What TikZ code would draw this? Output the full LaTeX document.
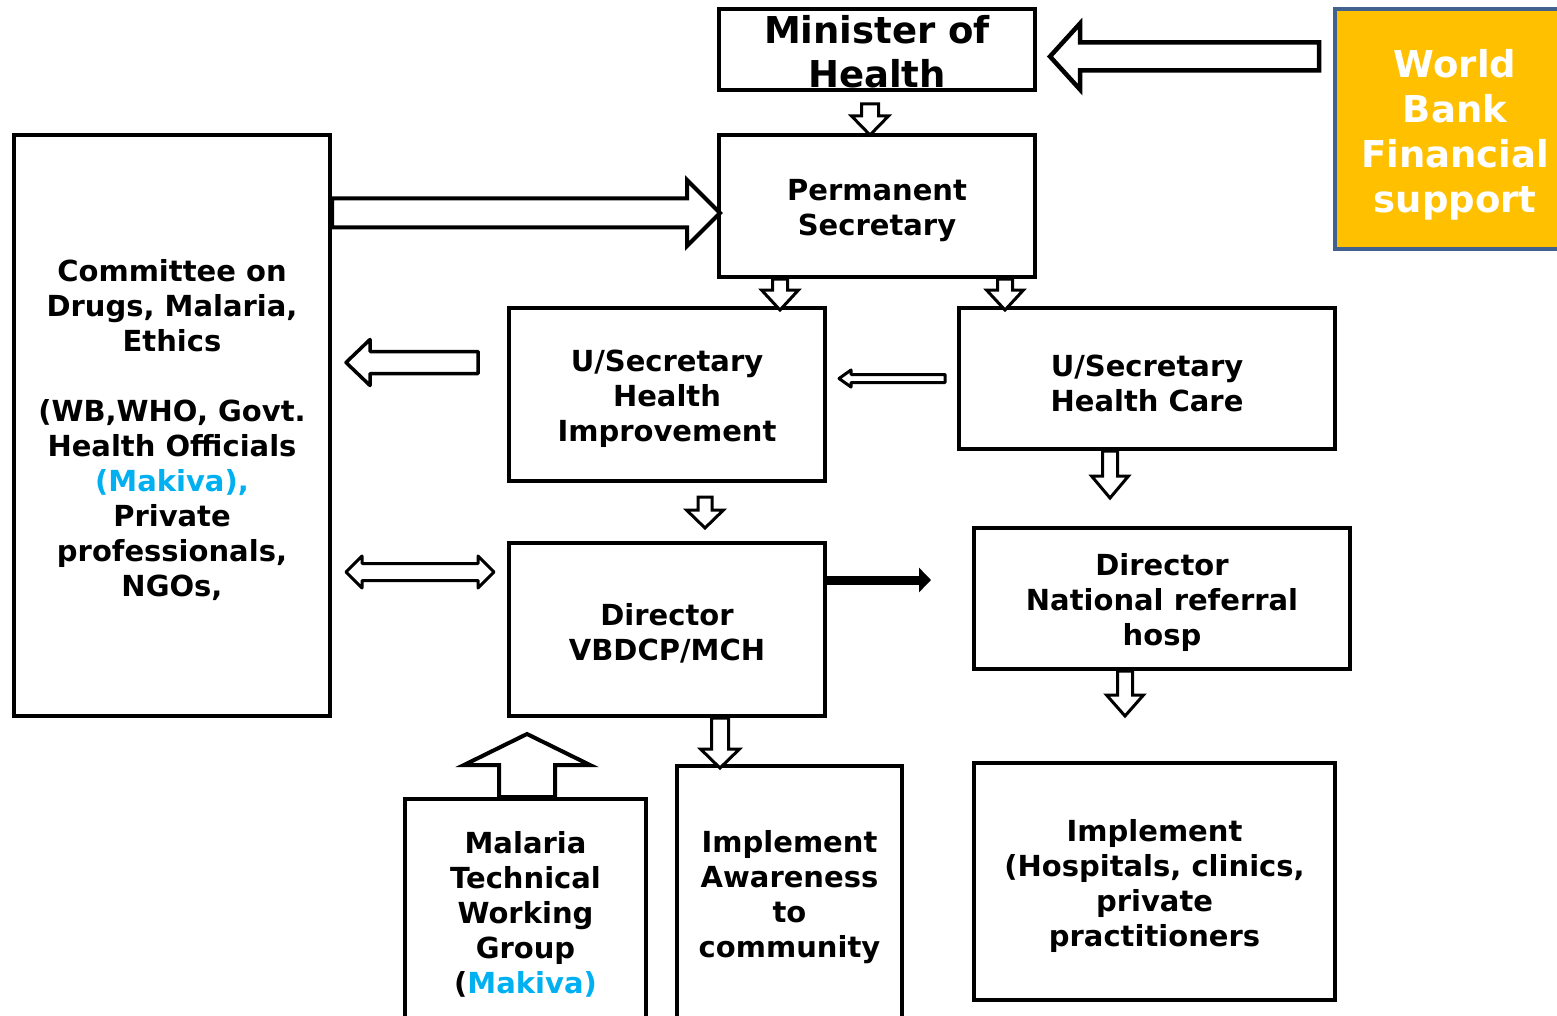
\documentclass[tikz,border=0pt]{standalone}
\usepackage{fontspec}
\setmainfont{DejaVu Sans}
\usetikzlibrary{calc,arrows.meta}
\definecolor{mkv}{HTML}{00B0F0}
\definecolor{wbfill}{HTML}{FFC000}
\definecolor{wbline}{HTML}{41618E}
\newcommand\tsh[1][1.05em]{\rule{0pt}{#1}}
% block arrow: [style]{from}{to}{shaft half}{head half}{head length}
\newcommand\blockarr[6][]{%
  \path (#2) coordinate (ba-s) (#3) coordinate (ba-e);
  \path ($(ba-e)!#6!(ba-s)$) coordinate (ba-h);
  \draw[hollowarr,#1] ($(ba-s)!#4!90:(ba-e)$) -- ($(ba-h)!#4!90:(ba-e)$)
    -- ($(ba-h)!#5!90:(ba-e)$) -- (ba-e) -- ($(ba-h)!#5!-90:(ba-e)$)
    -- ($(ba-h)!#4!-90:(ba-e)$) -- ($(ba-s)!#4!-90:(ba-e)$) -- cycle;}
% double block arrow
\newcommand\dblarr[6][]{%
  \path (#2) coordinate (da-s) (#3) coordinate (da-e);
  \path ($(da-e)!#6!(da-s)$) coordinate (da-h) ($(da-s)!#6!(da-e)$) coordinate (da-g);
  \draw[hollowarr,#1] (da-s) -- ($(da-g)!#5!90:(da-e)$) -- ($(da-g)!#4!90:(da-e)$)
    -- ($(da-h)!#4!-90:(da-s)$) -- ($(da-h)!#5!-90:(da-s)$) -- (da-e)
    -- ($(da-h)!#5!90:(da-s)$) -- ($(da-h)!#4!90:(da-s)$)
    -- ($(da-g)!#4!-90:(da-e)$) -- ($(da-g)!#5!-90:(da-e)$) -- cycle;}
\tikzset{
  box/.style={draw=black, line width=4pt, rectangle, align=center, inner sep=0pt,
    font=\fontsize{29}{35}\selectfont\bfseries},
  hollowarr/.style={draw=black, fill=white, line width=3pt},
}
\begin{document}
\begin{tikzpicture}[x=1pt,y=-1pt]
\useasboundingbox (0,0) rectangle (1557,1016);
% nodes
\node[box, minimum width=316pt, minimum height=81pt,
  font=\fontsize{37}{44}\selectfont\bfseries] (ms) at (877,49.5) {\tsh[0.87em]Minister of\\Health};
\node[box, draw=wbline, fill=wbfill, text=white, minimum width=240pt, minimum height=240pt,
  font=\fontsize{37}{45}\selectfont\bfseries] (wb) at (1455,129) {\tsh World\\Bank\\Financial\\support};
\node[box, minimum width=316pt, minimum height=142pt] (ps) at (877,206) {\tsh Permanent\\Secretary};
\node[box, minimum width=316pt, minimum height=581pt] (cm) at (172,425.5)
  {\tsh Committee on\\Drugs, Malaria,\\Ethics\\[35pt](WB,WHO, Govt.\\Health Officials\\\textcolor{mkv}{(Makiva),}\\Private\\professionals,\\NGOs,};
\node[box, minimum width=316pt, minimum height=173pt] (hi) at (667,394.5) {\tsh U/Secretary\\Health\\Improvement};
\node[box, minimum width=376pt, minimum height=141pt] (hc) at (1147,378.5) {\tsh U/Secretary\\Health Care};
\node[box, minimum width=316pt, minimum height=173pt] (dv) at (667,629.5) {\tsh Director\\VBDCP/MCH};
\node[box, minimum width=376pt, minimum height=141pt] (nr) at (1162,598.5) {\tsh Director\\National referral\\hosp};
\node[box, minimum width=241pt, minimum height=222pt] (mt) at (525.5,910)
  {\tsh Malaria\\Technical\\Working\\Group\\(\textcolor{mkv}{Makiva)}};
\node[box, minimum width=225pt, minimum height=254pt] (ia) at (789.5,893)
  {\tsh Implement\\Awareness\\to\\community};
\node[box, minimum width=361pt, minimum height=237pt] (ih) at (1154.5,881.5)
  {\tsh Implement\\(Hospitals, clinics,\\private\\practitioners};
% connectors
\blockarr[line width=4.5pt]{$(wb.west |- ms.east)+(-14,7)$}{$(ms.east)+(13,7)$}{14pt}{33pt}{30pt}
\blockarr[line width=4pt]{$(cm.east |- ps.west)+(0,7)$}{$(ps.west)+(3,7)$}{14.5pt}{33pt}{33pt}
\blockarr{$(ms.south)+(-7,12)$}{$(ps.north)+(-7,2)$}{8.5pt}{18.5pt}{19pt}
\blockarr{$(ps.south)+(-97,0)$}{$(ps.south -| hi.north)+(113,31)$}{7.5pt}{18.5pt}{20pt}
\blockarr{$(ps.south)+(128,0)$}{$(ps.south -| hc.north)+(-142,31)$}{7.5pt}{18.5pt}{20pt}
\blockarr[line width=3.5pt, line join=round]{$(hi.west)+(-29,-32)$}{$(cm.east |- hi.west)+(14,-32)$}{11pt}{23pt}{24pt}
\blockarr[line width=3pt, line join=round]{$(hc.west)+(-12,0)$}{$(hi.east |- hc.west)+(12,0)$}{4pt}{8.5pt}{12pt}
\dblarr[line width=3pt, line join=round]{$(cm.east |- dv.west)+(14,-57.5)$}{$(dv.west)+(-13,-57.5)$}{8.5pt}{16pt}{16pt}
\draw[line width=9pt, -{Triangle[length=12pt,width=24pt]}] ($(dv.east)+(0,-49.5)$) -- ($(nr.west |- dv.east)+(-41,-49.5)$);
\blockarr{$(hi.south)+(38,14)$}{$(dv.north)+(38,-13)$}{7pt}{18.5pt}{18pt}
\blockarr{$(dv.south)+(53,0)$}{$(dv.south -| ia.north)+(-69.5,50)$}{8.5pt}{19.5pt}{19pt}
\blockarr{$(hc.south)+(-37,0)$}{$(nr.north)+(-52,-28)$}{7.5pt}{18.5pt}{22pt}
\blockarr{$(nr.south)+(-37,0)$}{$(ih.north)+(-29.5,-45)$}{7.5pt}{18.5pt}{21pt}
\blockarr[line width=4pt]{$(mt.north)+(1.5,0)$}{$(dv.south)+(-140,16)$}{28pt}{63pt}{31pt}
\end{tikzpicture}
\end{document}
